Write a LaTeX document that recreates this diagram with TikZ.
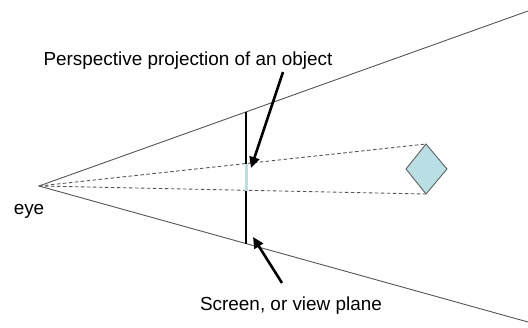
\documentclass[tikz,border=0pt]{standalone}
\usepackage{fontspec}
\setmainfont{Liberation Sans}
\usetikzlibrary{arrows.meta}
\definecolor{objfill}{HTML}{B9DEE3}
\definecolor{rayline}{HTML}{555555}
\tikzset{
  x=1pt, y=-1pt,
  frustum/.style={draw=rayline, line width=0.9pt},
  ray/.style={draw=rayline, line width=0.9pt, dash pattern=on 3.5pt off 2.5pt},
  screenline/.style={draw=black, line width=2.6pt},
  pointer/.style={draw=black, line width=2.6pt, -{Triangle[length=11pt,width=10pt]}},
  label/.style={font=\fontsize{18.9}{22}\selectfont, inner sep=0pt}
}
\begin{document}
\begin{tikzpicture}
\useasboundingbox (0,0) rectangle (528,327);
% eye and viewing frustum
\coordinate (eye) at (39,186);
\coordinate (ftop) at (528,11);
\coordinate (fbot) at (528,322);
\draw[frustum] (ftop) -- (eye) -- (fbot);
% object
\coordinate (dt) at (426,144);
\coordinate (db) at (426,194);
\coordinate (dl) at (406,169);
\coordinate (dr) at (447,169);
\filldraw[fill=objfill, draw=rayline, line width=0.8pt] (dt) -- (dr) -- (db) -- (dl) -- cycle;
% projection rays
\draw[ray] (eye) -- (dt);
\draw[ray] (eye) -- (db);
% screen
\coordinate (stop) at (246,112);
\coordinate (sbot) at (246,244);
\coordinate (ptop) at (246,164);
\coordinate (pbot) at (246,191);
\draw[screenline] (stop) -- (sbot);
\draw[draw=objfill, line width=3pt] (ptop) -- (pbot);
% labels
\node[label] (eyelbl) at (29,211) {eye};
\node[label] (projlbl) at (188,61) {Perspective projection of an object};
\node[label] (scrlbl) at (291,306) {Screen, or view plane};
\coordinate (projtail) at (283,72);
\coordinate (projtip) at (251,168);
\coordinate (scrtail) at (282,283);
\coordinate (scrtip) at (253,237);
\draw[pointer] (projtail) -- (projtip);
\draw[pointer] (scrtail) -- (scrtip);
\end{tikzpicture}
\end{document}
